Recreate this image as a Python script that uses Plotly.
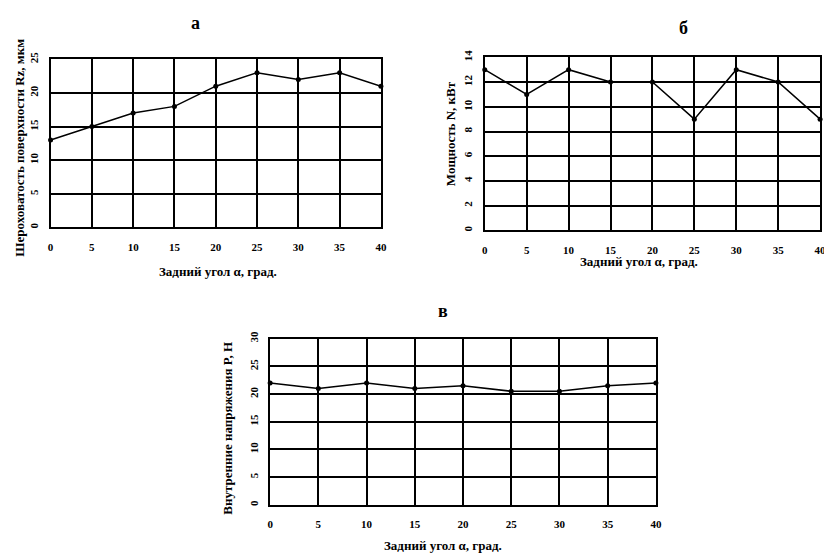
import plotly.graph_objects as go

angles = [0, 5, 10, 15, 20, 25, 30, 35, 40]
roughness_rz = [13, 15, 17, 18, 21, 23, 22, 23, 21]
power_n = [13, 11, 13, 12, 12, 9, 13, 12, 9]
stress_p = [22, 21, 22, 21, 21.5, 20.5, 20.5, 21.5, 22]

titles = ["а", "б", "в"]
xlabel = "Задний угол α, град."
ylabels = ["Шероховатость поверхности Rz, мкм", "Мощность N, кВт", "Внутренние напряжения P, Н"]

# the page body has an 8px margin, so the figure is drawn 8px in from the window corner
OFF = 8
W, H = 832 - OFF, 557 - OFF
FONT = "Liberation Serif"

def fx(px):
    return (px - OFF) / W

def fy(py):
    return 1 - (py - OFF) / H

fig = go.Figure()

series = [roughness_rz, power_n, stress_p]
for i, ys in enumerate(series):
    ax = "" if i == 0 else str(i + 1)
    fig.add_trace(go.Scatter(
        x=angles, y=ys, mode="lines+markers",
        line=dict(color="black", width=1.5),
        marker=dict(color="black", size=5),
        xaxis="x" + ax, yaxis="y" + ax, showlegend=False, cliponaxis=False,
    ))

# panel geometry (pixels in the window)
panels = [
    dict(x0=48, x1=382, y0=52, y1=223, yr=[0, 25], dt=5),
    dict(x0=487, x1=826, y0=50, y1=226, yr=[0, 14], dt=2),
    dict(x0=270, x1=660, y0=336, y1=505, yr=[0, 30], dt=5),
]

tickfont = dict(family=FONT, size=11, color="black", weight="bold")
layout = dict(
    width=W, height=H, margin=dict(l=0, r=0, t=0, b=0),
    paper_bgcolor="white", plot_bgcolor="white",
)
for i, p in enumerate(panels):
    ax = "" if i == 0 else str(i + 1)
    layout["xaxis" + ax] = dict(
        domain=[fx(p["x0"]), fx(p["x1"])], range=[0, 40], dtick=5, tick0=0,
        anchor="y" + ax, showgrid=True, gridcolor="black", gridwidth=2,
        showline=True, linecolor="black", linewidth=2, mirror=True,
        zeroline=False, ticks="", tickfont=tickfont, ticklabelstandoff=8,
    )
    layout["yaxis" + ax] = dict(
        domain=[fy(p["y1"]), fy(p["y0"])], range=p["yr"], dtick=p["dt"], tick0=0,
        anchor="x" + ax, showgrid=True, gridcolor="black", gridwidth=2,
        showline=True, linecolor="black", linewidth=2, mirror=True,
        zeroline=False, ticks="", tickfont=tickfont, tickangle=-90, ticklabelstandoff=6,
    )

fig.update_layout(**layout)

ann = []
common = dict(xref="paper", yref="paper", showarrow=False, xanchor="center", yanchor="middle")
for t, (px, py) in zip(titles, [(195, 15), (688, 20), (445, 308)]):
    ann.append(dict(text=t, x=fx(px), y=fy(py),
                    font=dict(family=FONT, size=18, color="black", weight="bold"), **common))
for px, py in [(217, 268), (643, 258), (445, 546)]:
    ann.append(dict(text=xlabel, x=fx(px), y=fy(py),
                    font=dict(family=FONT, size=13, color="black", weight="bold"), **common))
for lab, (px, py) in zip(ylabels, [(17, 142), (452, 128), (227, 427)]):
    ann.append(dict(text=lab, x=fx(px), y=fy(py), textangle=-90,
                    font=dict(family=FONT, size=13, color="black", weight="bold"), **common))
fig.update_layout(annotations=ann)

fig.write_html("out.html")
